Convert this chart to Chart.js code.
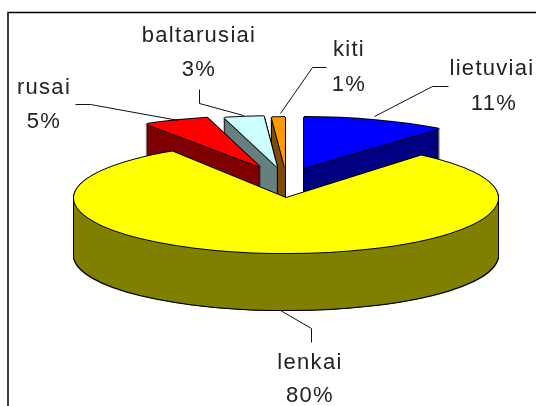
<!DOCTYPE html>
<html><head><meta charset="utf-8">
<script src="https://cdn.jsdelivr.net/npm/chart.js@4"></script>
<style>html,body{margin:0;padding:0;background:#fff}canvas{display:block}</style>
</head><body><canvas id="c" width="536" height="406"></canvas>
<script>
const categories = ['lietuviai','lenkai','rusai','baltarusiai','kiti'];
const shares = [11,80,5,3,1];
const topColors = ['#0000FF','#FFFF00','#FF0000','#CCFFFF','#FF9900'];
const sideColors = ['#000080','#808000','#800000','#668080','#804D00'];
// exploded placement of each slice's tip on screen
const tipX = [304,286,260,277,285];
const tipY = [168,198,167,167,168];
const squash = [0.24,0.26,0.24,0.24,0.24];
const drawOrder = [0,4,3,2,1];
const pieRadius = 212, depth = 57;
const labelPos = [[492,69,494,104],[310,363,310,396],[44,88,44,122],[199,36,199,70],[349,50,349,85]];
const leaders = [[[448,86],[432,86],[374,116]],[[280,310],[311,328],[311,342]],[[75,104],[90,104],[178,120]],[[199,89],[199,103],[243,115]],[[326,67],[312,67],[280,113]]];

function paint(ctx, arc, i, dx, dy, color){
  const s = pieRadius/arc.outerRadius;
  const opts = Object.create(arc.options);
  opts.backgroundColor = color; opts.borderWidth = 0; opts.borderColor = color;
  const saved = arc.options;
  arc.options = opts;
  ctx.save();
  ctx.translate(tipX[i]+dx, tipY[i]+dy);
  ctx.scale(s, s*squash[i]);
  ctx.translate(-arc.x, -arc.y);
  arc.draw(ctx);
  ctx.restore();
  arc.options = saved;
}
const pie3d = {
  id:'pie3d',
  beforeDatasetsDraw(chart){
    const ctx = chart.ctx, arcs = chart.getDatasetMeta(0).data;
    ctx.save();
    ctx.strokeStyle='#000'; ctx.lineWidth=1.5;
    ctx.strokeRect(8,12.5,700,700);
    ctx.restore();
    for(const i of drawOrder){
      const arc = arcs[i];
      // side wall silhouette
      for(let d=depth+1;d>=0;d--){ paint(ctx,arc,i,-1,d,'#000'); paint(ctx,arc,i,1,d,'#000'); }
      for(let d=depth;d>=0;d--){ paint(ctx,arc,i,0,d,sideColors[i]); }
      // top face with outline
      paint(ctx,arc,i,-1,0,'#000'); paint(ctx,arc,i,1,0,'#000');
      paint(ctx,arc,i,0,-1,'#000'); paint(ctx,arc,i,0,1,'#000');
      paint(ctx,arc,i,0,0,topColors[i]);
    }
    // leader lines
    ctx.save();
    ctx.strokeStyle='#111'; ctx.lineWidth=1;
    for(const pts of leaders){
      ctx.beginPath();
      pts.forEach((p,k)=>k?ctx.lineTo(p[0]+.5,p[1]+.5):ctx.moveTo(p[0]+.5,p[1]+.5));
      ctx.stroke();
    }
    // labels
    ctx.fillStyle='#222'; ctx.font='22px "Liberation Sans"';
    ctx.letterSpacing='1.3px';
    ctx.textAlign='center'; ctx.textBaseline='middle';
    categories.forEach((t,i)=>{
      const p=labelPos[i];
      ctx.fillText(t,p[0],p[1]);
      ctx.fillText(shares[i]+'%',p[2],p[3]);
    });
    ctx.restore();
    return false;
  }
};
new Chart(document.getElementById('c'),{
  type:'pie',
  data:{labels:categories,datasets:[{data:shares,backgroundColor:topColors,borderWidth:0}]},
  options:{responsive:false,animation:false,rotation:0,
    layout:{padding:0},
    plugins:{legend:{display:false},tooltip:{enabled:false}}},
  plugins:[pie3d]
});
</script></body></html>
